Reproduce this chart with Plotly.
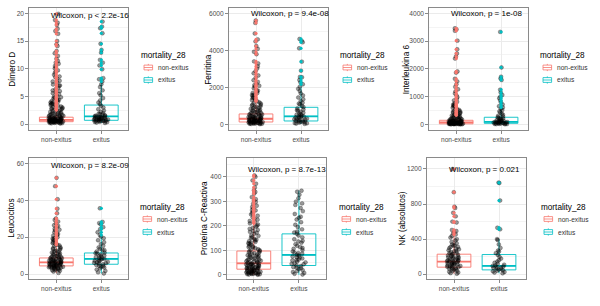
import plotly.graph_objects as go

# ---------------- data ----------------
CATS = ["non-exitus", "exitus"]
RED = "#F8766D"
TEAL = "#00BFC4"
LEGEND_TITLE = "mortality_28"

y_titles = ["Dímero D", "Ferritina", "Interleukina 6", "Leucocitos",
            "Proteína C-Reactiva", "NK (absolutos)"]
p_labels = ["Wilcoxon, p < 2.2e-16", "Wilcoxon, p = 9.4e-08", "Wilcoxon, p = 1e-08",
            "Wilcoxon, p = 8.2e-09", "Wilcoxon, p = 8.7e-13", "Wilcoxon, p = 0.021"]
p_label_y = [19.6, 6000, 3975, 58.9, 431, 1189]

dimero_non = [0.11, 0.16, 0.19, 0.22, 0.26, 0.29, 0.31, 0.34, 0.37, 0.4, 0.42, 0.45, 0.47, 0.5,
              0.53, 0.55, 0.58, 0.6, 0.63, 0.66, 0.68, 0.71, 0.74, 0.77, 0.8, 0.82, 0.85, 0.88,
              0.92, 0.95, 0.99, 1.03, 1.08, 1.12, 1.18, 1.24, 1.29, 1.35, 1.42, 1.5, 1.57, 1.66,
              1.74, 1.85, 1.96, 2.09, 2.21, 2.37, 2.55, 2.68, 2.84, 3.02, 3.19, 3.38, 3.6, 3.77,
              3.98, 4.16, 4.4, 4.63, 4.85, 0.35, 0.62, 0.9, 1.4, 2.0, 2.9, 3.5, 4.3, 0.5, 0.75,
              0.24, 0.44, 0.57, 0.7, 0.86, 1.0, 1.15, 1.32, 1.61, 1.79, 2.15, 2.45, 2.76, 3.1,
              3.3, 3.68, 3.9, 4.05, 4.52, 4.74, 1.9, 2.6, 3.45, 4.95,
              5.12, 5.4, 5.71, 5.96, 6.3, 6.55, 6.88, 7.15, 7.52, 7.83, 8.2, 8.48, 8.9, 9.26,
              9.7, 10.05, 10.5, 10.9, 11.4, 11.8, 12.3, 12.8, 13.2, 14.1, 14.4, 15.0, 16.3,
              16.8, 17.2, 17.9, 18.3, 18.8, 19.9, 5.6, 6.1, 7.0, 7.7, 8.6, 9.5, 10.3, 11.1]
dimero_exi = [0.22, 0.3, 0.38, 0.45, 0.52, 0.58, 0.63, 0.68, 0.72, 0.77, 0.82, 0.88, 0.93, 0.99,
              1.05, 1.12, 1.2, 1.28, 1.35, 1.42, 1.5, 1.6, 1.72, 1.85, 2.0, 2.2, 2.45, 2.7, 3.0,
              3.3, 3.6, 3.9, 4.3, 4.7, 5.2, 5.6, 6.1, 6.7, 7.2, 7.7, 8.1, 8.3, 9.9, 10.6, 11.1,
              11.6, 12.9, 13.4, 14.5, 16.4, 17.3, 17.6, 18.5, 0.4, 0.55, 0.75, 0.96, 1.15, 1.3,
              1.55, 1.9, 0.6, 0.85, 1.08, 1.25]

ferritina_non = [8, 19, 27, 36, 44, 55, 63, 71, 82, 90, 101, 112, 119, 128, 139, 151, 163, 172,
                 186, 198, 211, 226, 238, 252, 267, 281, 296, 311, 329, 342, 361, 380, 398, 421,
                 440, 462, 487, 511, 536, 562, 589, 617, 648, 682, 714, 751, 789, 832, 871, 918,
                 964, 1012, 1068, 1121, 1183, 1240, 1310, 1372, 1451, 1530, 1602, 1694, 1781,
                 1865, 1952, 2040, 2118, 2196, 2290, 2385, 2510, 2640, 2760, 2870, 3010, 3130,
                 3290, 3400, 3790, 3920, 4080, 4230, 4480, 4590, 4910, 5480, 5610, 150, 260,
                 420, 700, 950, 1300, 1700, 33, 68, 95, 134, 178, 205, 245, 290, 335, 390, 450,
                 525, 610, 760, 880, 1050, 1150, 1420, 1580, 1820, 2080]
ferritina_exi = [22, 41, 66, 93, 118, 142, 168, 191, 223, 247, 276, 309, 338, 366, 398, 427, 463,
                 498, 537, 585, 628, 683, 738, 796, 857, 928, 1004, 1077, 1165, 1254, 1352, 1448,
                 1562, 1671, 1798, 1917, 2036, 2162, 2270, 2396, 2540, 2560, 2901, 3387, 4108,
                 4432, 4510, 4612, 55, 130, 205, 290, 380, 520, 760, 1120]

il6_non = [1, 3, 5, 7, 9, 12, 14, 16, 19, 22, 25, 28, 31, 35, 38, 42, 46, 51, 55, 60, 64, 69, 74,
           79, 85, 91, 97, 104, 111, 118, 126, 134, 143, 152, 163, 175, 187, 201, 214, 229, 246,
           262, 281, 301, 322, 347, 371, 398, 426, 455, 488, 519, 556, 594, 631, 672, 716, 761,
           810, 863, 918, 979, 1041, 1110, 1187, 1262, 1349, 1441, 1548, 1640, 1862, 1905, 2368,
           2441, 2553, 2702, 3015, 3370, 3420, 3459, 20, 45, 80, 130, 240, 420, 650, 2, 6, 10,
           17, 27, 33, 40, 57, 66, 88, 100, 115, 140, 170, 195, 255, 310, 360, 470, 540, 700]
il6_exi = [2, 6, 11, 17, 23, 29, 36, 43, 50, 57, 65, 73, 81, 89, 98, 108, 121, 134, 149, 166, 186,
           207, 231, 254, 282, 311, 347, 382, 426, 468, 514, 562, 606, 652, 715, 792, 866, 942,
           998, 1057, 1146, 1248, 1598, 1652, 1714, 2049, 3330, 15, 40, 62, 95, 140, 210]

leuco_non = [0.6, 1.3, 1.8, 2.2, 2.5, 2.8, 3.0, 3.2, 3.4, 3.6, 3.8, 3.9, 4.1, 4.2, 4.4, 4.5, 4.7,
             4.8, 5.0, 5.1, 5.3, 5.4, 5.6, 5.7, 5.9, 6.0, 6.2, 6.3, 6.5, 6.6, 6.8, 7.0, 7.2, 7.4,
             7.6, 7.8, 8.0, 8.3, 8.6, 8.9, 9.2, 9.5, 9.9, 10.3, 10.7, 11.1, 11.6, 12.1, 12.7,
             13.2, 13.9, 14.5, 15.2, 15.9, 16.7, 17.4, 18.2, 19.1, 19.9, 20.8, 21.7, 22.6, 23.6,
             24.5, 25.6, 26.4, 27.5, 28.4, 29.3, 30.1, 32.9, 35.4, 40.5, 47.6, 52.1, 3.5, 4.6,
             5.5, 6.4, 7.3, 8.1, 9.0, 10.1, 11.9, 14.0, 16.1, 18.7, 21.2, 24.0, 2.0, 2.7, 3.3,
             4.0, 4.9, 5.8, 6.7, 7.7, 8.5, 9.7, 10.9, 12.4, 13.5, 15.5, 17.0, 19.5, 22.2, 26.0]
leuco_exi = [0.3, 0.9, 1.7, 2.4, 3.0, 3.5, 4.0, 4.5, 4.9, 5.3, 5.7, 6.1, 6.6, 7.0, 7.4, 7.9, 8.2,
             8.6, 9.1, 9.5, 10.0, 10.5, 11.1, 11.6, 12.2, 12.9, 13.6, 14.4, 15.3, 16.2, 17.2,
             18.3, 19.4, 20.3, 21.1, 22.6, 24.3, 25.4, 26.9, 27.6, 28.2, 35.6, 4.2, 5.9, 7.2,
             8.4, 9.8, 11.3, 13.1, 6.4]

pcr_non = [0.4, 1.2, 2.1, 3.3, 4.5, 5.8, 7.2, 8.6, 10.1, 11.7, 13.2, 14.8, 16.3, 17.9, 19.4, 21.0,
           22.5, 24.1, 25.8, 27.4, 29.1, 30.9, 32.6, 34.4, 36.3, 38.1, 40.0, 42.0, 44.1, 46.2,
           48.4, 50.7, 53.0, 55.4, 57.9, 60.5, 63.1, 65.8, 68.7, 71.6, 74.7, 77.9, 81.2, 84.6,
           88.2, 92.0, 95.9, 99.9, 104.2, 108.6, 113.3, 118.2, 123.4, 128.8, 134.5, 140.4, 146.7,
           153.3, 160.2, 167.5, 175.1, 183.2, 191.6, 200.5, 209.8, 219.6, 229.9, 240.8, 252.1,
           263.9, 276.3, 289.4, 302.5, 316.8, 331.0, 344.7, 356.2, 371.5, 384.9, 399.3, 405.1,
           2.7, 6.3, 9.9, 15.1, 20.2, 26.6, 33.5, 41.2, 49.6, 58.8, 69.9, 83.1, 97.4, 112.0,
           126.5, 143.2, 158.9, 178.4, 196.3, 214.7, 234.6, 258.2, 281.7, 308.4, 337.9, 12.4,
           23.8, 37.2, 52.1, 76.3, 101.5, 137.2, 171.8, 205.1, 246.3, 271.2, 296.8, 3.8, 8.1,
           18.6, 28.3, 35.1, 45.3, 62.4, 79.6, 91.1, 116.4, 131.7, 150.2, 187.5, 224.8, 262.6]
pcr_exi = [1.5, 4.2, 7.8, 11.3, 15.6, 19.2, 23.7, 27.1, 31.4, 35.8, 38.6, 42.9, 46.3, 50.8, 54.1,
           58.7, 62.2, 66.9, 70.4, 74.6, 78.3, 81.9, 86.4, 90.7, 95.2, 100.8, 106.3, 112.9, 118.4,
           124.7, 131.2, 138.5, 145.1, 152.8, 160.3, 167.6, 176.2, 185.4, 194.9, 204.1, 214.6,
           225.3, 236.8, 248.2, 259.7, 272.4, 285.1, 298.6, 312.3, 326.5, 338.9, 343.0, 29.5,
           44.8, 60.3, 72.9, 88.6, 109.4, 135.8, 172.3, 232.5, 291.2]

nk_non = [5, 12, 20, 28, 35, 42, 50, 57, 63, 70, 76, 82, 88, 94, 100, 106, 112, 118, 124, 130,
          136, 142, 148, 154, 160, 166, 172, 178, 185, 192, 199, 206, 214, 222, 230, 240, 250,
          260, 272, 284, 296, 310, 324, 338, 352, 368, 384, 400, 418, 436, 452, 465, 480, 492,
          505, 590, 600, 660, 700, 755, 770, 935, 1200, 95, 120, 145, 170, 205, 245, 290, 330,
          60, 85, 110, 132, 158, 182, 218, 265, 310]
nk_exi = [10, 18, 25, 32, 40, 46, 52, 58, 64, 70, 76, 82, 88, 94, 100, 108, 118, 130, 145, 160,
          178, 198, 220, 240, 258, 270, 300, 340, 390, 400, 512, 530, 840, 1040, 1045]

# box statistics: [q1, median, q3, lower fence, upper fence]
dimero_box = {"non-exitus": [0.45, 0.78, 1.26, 0.1, 2.5], "exitus": [0.7, 1.39, 3.45, 0.2, 7.6]}
ferritina_box = {"non-exitus": [126, 300, 560, 5, 1205], "exitus": [180, 432, 919, 20, 2036]}
il6_box = {"non-exitus": [18, 70, 145, 1, 320], "exitus": [36, 88, 254, 2, 580]}
leuco_box = {"non-exitus": [4.4, 6.3, 8.7, 0.5, 15.5], "exitus": [5.3, 8.2, 11.4, 0.3, 20.5]}
pcr_box = {"non-exitus": [23, 47, 97, 0, 208], "exitus": [38, 81, 167, 0, 343]}
nk_box = {"non-exitus": [80, 144, 228, 5, 450], "exitus": [49, 95, 224, 10, 400]}

panels_data = [
    (dimero_non, dimero_exi, dimero_box),
    (ferritina_non, ferritina_exi, ferritina_box),
    (il6_non, il6_exi, il6_box),
    (leuco_non, leuco_exi, leuco_box),
    (pcr_non, pcr_exi, pcr_box),
    (nk_non, nk_exi, nk_box),
]

# ---------------- layout geometry (pixels) ----------------
W, H = 600, 306
panel_px = [  # left, right, top, bottom
    (29.3, 128.3, 8.3, 130), (229, 328, 8.3, 130), (429.3, 528, 8.3, 130),
    (29.3, 128.3, 158.3, 279), (226.7, 326, 158.3, 279), (427, 526, 158.3, 279),
]
y_ranges = [[-1.05, 20.9], [-308, 6270], [-205, 4180], [-2.7, 62.7], [-17, 475], [-55, 1322]]
y_dticks = [5, 2000, 1000, 20, 100, 400]
ytitle_x_px = [11.7, 208.5, 406, 12, 204.5, 403]
legend_left_px = [140, 339, 539, 139, 338, 540]
legend_rows_y_px = [(55, 67.5, 80), (55, 67.5, 80), (55, 67.5, 80),
                    (207, 219, 232), (207, 219, 232), (207, 219, 232)]

FONT = "Liberation Sans, Arial, sans-serif"
COLORS = {"non-exitus": RED, "exitus": TEAL}


def px(xp):
    return xp / W


def py(yp):
    return 1 - yp / H


fig = go.Figure()
annotations = []
shapes = []
layout = dict(
    width=W, height=H, margin=dict(l=0, r=0, t=0, b=0),
    paper_bgcolor="white", plot_bgcolor="white",
    font=dict(family=FONT, size=8, color="black"),
    boxmode="overlay", showlegend=False,
)

for i, (non_vals, exi_vals, box) in enumerate(panels_data):
    n = i + 1
    xa = "x" if n == 1 else f"x{n}"
    ya = "y" if n == 1 else f"y{n}"
    groups = {"non-exitus": non_vals, "exitus": exi_vals}

    for cat in CATS:
        q1, med, q3, lo, hi = box[cat]
        col = COLORS[cat]
        fig.add_trace(go.Box(
            x=[cat], q1=[q1], median=[med], q3=[q3], lowerfence=[lo], upperfence=[hi],
            name=cat, width=0.75, whiskerwidth=0, boxpoints=False,
            line=dict(color=col, width=0.9), fillcolor="rgba(255,255,255,0)",
            xaxis=xa, yaxis=ya, showlegend=False,
        ))
        fig.add_trace(go.Box(
            x=[cat], q1=[med], median=[med], q3=[med], lowerfence=[med], upperfence=[med],
            name=cat, width=0.75, whiskerwidth=0, boxpoints=False,
            line=dict(color=col, width=1.8), fillcolor="rgba(255,255,255,0)",
            xaxis=xa, yaxis=ya, showlegend=False, hoverinfo="skip",
        ))
        outl = [v for v in groups[cat] if v > hi or v < lo]
        fig.add_trace(go.Scatter(
            x=[cat] * len(outl), y=outl, mode="markers",
            marker=dict(color=col, size=3.2), xaxis=xa, yaxis=ya, showlegend=False,
        ))
    for cat in CATS:
        vals = groups[cat]
        fig.add_trace(go.Box(
            x=[cat] * len(vals), y=vals, name=cat, width=0.75,
            boxpoints="all", jitter=0.45, pointpos=0,
            line=dict(width=0, color="rgba(0,0,0,0)"), fillcolor="rgba(0,0,0,0)",
            marker=dict(size=3.9, color="rgba(0,0,0,0.4)",
                        line=dict(color="rgba(0,0,0,0.5)", width=0.5)),
            xaxis=xa, yaxis=ya, showlegend=False, hoveron="points",
        ))

    l, r, t, b = panel_px[i]
    xkey = "xaxis" if n == 1 else f"xaxis{n}"
    ykey = "yaxis" if n == 1 else f"yaxis{n}"
    layout[xkey] = dict(
        domain=[px(l), px(r)], anchor=ya, type="category",
        categoryorder="array", categoryarray=CATS, range=[-0.6, 1.6],
        showgrid=True, gridcolor="#EBEBEB", gridwidth=1,
        showline=True, mirror=True, linecolor="#8a8a8a", linewidth=1,
        ticks="outside", ticklen=3, tickcolor="#8a8a8a",
        tickfont=dict(size=6.6, color="#4D4D4D"), zeroline=False,
    )
    layout[ykey] = dict(
        domain=[py(b), py(t)], anchor=xa, range=y_ranges[i],
        dtick=y_dticks[i], tick0=0,
        showgrid=True, gridcolor="#EBEBEB", gridwidth=1,
        minor=dict(dtick=y_dticks[i] / 2, showgrid=True, gridcolor="#F4F4F4", gridwidth=0.6),
        showline=True, mirror=True, linecolor="#8a8a8a", linewidth=1,
        ticks="outside", ticklen=3, tickcolor="#8a8a8a",
        tickfont=dict(size=6.6, color="#4D4D4D"), zeroline=False,
    )
    annotations.append(dict(
        text=y_titles[i], xref="paper", yref="paper", x=px(ytitle_x_px[i]), y=py((t + b) / 2),
        textangle=-90, xanchor="center", yanchor="middle", showarrow=False,
        font=dict(size=8.2, color="black"),
    ))
    annotations.append(dict(
        text=p_labels[i], xref="paper", yref=ya, x=px(l + 19.5), y=p_label_y[i],
        xanchor="left", yanchor="middle", showarrow=False,
        font=dict(size=8, color="black"),
    ))
    ll = legend_left_px[i]
    ty, k1, k2 = legend_rows_y_px[i]
    annotations.append(dict(
        text=LEGEND_TITLE, xref="paper", yref="paper", x=px(ll - 1), y=py(ty),
        xanchor="left", yanchor="middle", showarrow=False,
        font=dict(size=8.2, color="black"),
    ))
    for cat, ky in zip(CATS, (k1, k2)):
        col = COLORS[cat]
        cx = ll + 8.3
        shapes.append(dict(type="line", xref="paper", yref="paper",
                           x0=px(cx), x1=px(cx), y0=py(ky - 3.6), y1=py(ky + 3.6),
                           line=dict(color=col, width=0.8)))
        shapes.append(dict(type="rect", xref="paper", yref="paper",
                           x0=px(cx - 4.3), x1=px(cx + 4.3), y0=py(ky - 2.4), y1=py(ky + 2.4),
                           line=dict(color=col, width=0.8), fillcolor="white"))
        shapes.append(dict(type="line", xref="paper", yref="paper",
                           x0=px(cx - 4.3), x1=px(cx + 4.3), y0=py(ky), y1=py(ky),
                           line=dict(color=col, width=0.8)))
        annotations.append(dict(
            text=cat, xref="paper", yref="paper", x=px(ll + 16), y=py(ky),
            xanchor="left", yanchor="middle", showarrow=False,
            font=dict(size=6.6, color="#333333"),
        ))

layout["annotations"] = annotations
layout["shapes"] = shapes
fig.update_layout(**layout)
fig.write_html(
    "out.html",
    config={"displayModeBar": False},
    post_script="document.body.style.margin='0';document.body.style.padding='0';"
                "document.body.style.overflow='hidden';",
)
